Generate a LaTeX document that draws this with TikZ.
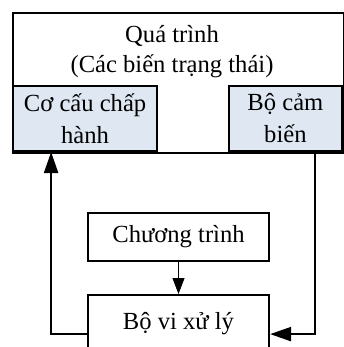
\documentclass[tikz,border=0pt]{standalone}
\usepackage{fontspec}
\setmainfont{Liberation Serif}
\usetikzlibrary{arrows.meta}
\definecolor{boxblue}{HTML}{DEE7F2}
\tikzset{
  box/.style={draw=black, line width=2.2pt, rectangle, inner sep=0pt, align=center,
    font=\fontsize{24.6}{32}\selectfont},
  fb/.style={box, fill=boxblue},
  bigarrow/.style={line width=2.2pt, -{Triangle[length=21pt,width=14pt]}},
  thinarrow/.style={line width=1pt, -{Triangle[length=16pt,width=12pt]}},
  lbl/.style={inner sep=0pt, align=center, font=\fontsize{24.6}{30}\selectfont}
}
\begin{document}
\begin{tikzpicture}[x=1pt,y=-1pt]
\useasboundingbox (0,0) rectangle (344,347);
\node[box, minimum width=331pt, minimum height=140pt, anchor=north west] (proc) at (12,12) {};
\node[lbl] (ptxt) at (172,52) {Quá trình\\(Các biến trạng thái)};
\node[fb, minimum width=144pt, minimum height=65pt, anchor=south west] (act) at (12,152) {Cơ cấu chấp\\hành};
\node[fb, minimum width=113pt, minimum height=65pt, anchor=south east] (sens) at (343,152) {Bộ cảm\\biến};
\node[box, minimum width=181pt, minimum height=48pt] (prog) at (178.5,237) {Chương trình};
\node[box, minimum width=181pt, minimum height=56pt, anchor=north] (cpu) at (178.5,294) {Bộ vi xử lý};
\draw[thinarrow] (prog.south) -- (cpu.north);
\draw[bigarrow] ([yshift=-11pt]cpu.west) -| ([xshift=-34pt]act.south);
\draw[bigarrow] ([xshift=29.5pt]sens.south) |- ([yshift=-11pt]cpu.east);
\end{tikzpicture}
\end{document}
